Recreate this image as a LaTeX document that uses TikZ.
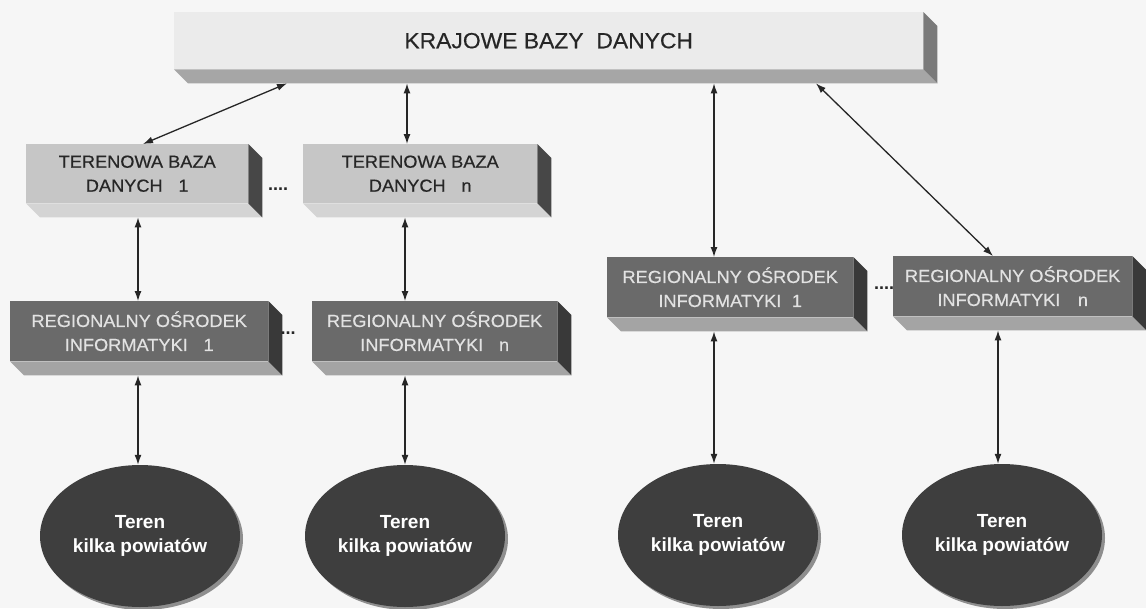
\documentclass[tikz,border=0pt]{standalone}
\usepackage{fontspec}
\setmainfont{Liberation Sans}
\newfontfamily\boxfont[FakeStretch=1.04,FakeBold=0.4]{Liberation Sans}
\usetikzlibrary{arrows.meta,shapes.geometric,shadows}
\definecolor{bg}{HTML}{F6F6F6}
\definecolor{topfront}{HTML}{EBEBEB}
\definecolor{topbottom}{HTML}{A6A6A6}
\definecolor{topside}{HTML}{7A7A7A}
\definecolor{terfront}{HTML}{C6C6C6}
\definecolor{terbottom}{HTML}{D4D4D4}
\definecolor{terside}{HTML}{474747}
\definecolor{roifront}{HTML}{6A6A6A}
\definecolor{roibottom}{HTML}{A4A4A4}
\definecolor{roiside}{HTML}{393939}
\definecolor{ellfill}{HTML}{3E3E3E}
\definecolor{ellrim}{HTML}{8E8E8E}
\definecolor{ink}{HTML}{262626}
\definecolor{lighttext}{HTML}{E2E2E2}
\newcommand\extrude[3]{%
  \fill[#2] (#1.south west) -- (#1.south east) -- ([shift={(14,14)}]#1.south east) -- ([shift={(14,14)}]#1.south west) -- cycle;
  \fill[#3] (#1.north east) -- ([shift={(14,14)}]#1.north east) -- ([shift={(14,14)}]#1.south east) -- (#1.south east) -- cycle;
  \coordinate (#1b) at ([shift={(0,14)}]#1.south);}
\begin{document}
\begin{tikzpicture}[x=1pt,y=-1pt,
  slab/.style={rectangle, anchor=north west, inner sep=0pt, align=center},
  topslab/.style={slab, fill=topfront, text=ink, font=\boxfont\fontsize{22}{24}\selectfont},
  terslab/.style={slab, fill=terfront, text=ink, font=\boxfont\fontsize{17.5}{24}\selectfont},
  roislab/.style={slab, fill=roifront, text=lighttext, font=\boxfont\fontsize{17.5}{24}\selectfont},
  terr/.style={ellipse, fill=ellfill, minimum width=200pt, minimum height=142pt, inner sep=0pt,
    text=white, align=center, font=\bfseries\fontsize{19}{24}\selectfont,
    drop shadow={shadow xshift=3pt, shadow yshift=-3pt, fill=ellrim, opacity=1}},
  dots/.style={text=ink, font=\bfseries\fontsize{18}{18}\selectfont, inner sep=0pt},
  conn/.style={draw=ink, line width=1.3pt, {Latex[length=10pt,width=7pt]}-{Latex[length=10pt,width=7pt]}}
]
\useasboundingbox (0,0) rectangle (1146,608);
\fill[bg] (0,0) rectangle (1146,608);

% boxes
\node[topslab, minimum width=749pt, minimum height=57pt] (top) at (174,12) {KRAJOWE BAZY\ \ DANYCH};
\extrude{top}{topbottom}{topside}

\node[terslab, minimum width=222pt, minimum height=59pt] (ter1) at (26,144) {TERENOWA BAZA\\DANYCH\hspace{0.9em}1};
\extrude{ter1}{terbottom}{terside}
\node[terslab, minimum width=234pt, minimum height=59pt] (tern) at (303,144) {TERENOWA BAZA\\DANYCH\hspace{0.9em}n};
\extrude{tern}{terbottom}{terside}

\node[roislab, minimum width=258pt, minimum height=60pt] (r1l) at (10,301) {REGIONALNY OŚRODEK\\INFORMATYKI\hspace{0.9em}1};
\extrude{r1l}{roibottom}{roiside}
\node[roislab, minimum width=245pt, minimum height=60pt] (rnl) at (312,301) {REGIONALNY OŚRODEK\\INFORMATYKI\hspace{0.9em}n};
\extrude{rnl}{roibottom}{roiside}
\node[roislab, minimum width=246pt, minimum height=60pt] (r1r) at (607,257) {REGIONALNY OŚRODEK\\INFORMATYKI\hspace{0.6em}1};
\extrude{r1r}{roibottom}{roiside}
\node[roislab, minimum width=239pt, minimum height=60pt] (rnr) at (893,256) {REGIONALNY OŚRODEK\\INFORMATYKI\hspace{1em}n};
\extrude{rnr}{roibottom}{roiside}

% ellipses
\node[terr] (e1) at (140,536) {Teren\\kilka powiatów};
\node[terr] (e2) at (405,536) {Teren\\kilka powiatów};
\node[terr] (e3) at (718,535) {Teren\\kilka powiatów};
\node[terr] (e4) at (1002,535) {Teren\\kilka powiatów};

% dots
\node[dots] (d1) at (278,189) {....};
\node[dots] (d2) at (288,333) {...};
\node[dots] (d3) at (884,288) {....};

% connectors
\draw[conn] (287,0 |- topb) -- (143,0 |- ter1.north);
\draw[conn] (407,0 |- topb) -- (407,0 |- tern.north);
\draw[conn] (714,0 |- topb) -- (714,0 |- r1r.north);
\draw[conn] (816,0 |- topb) -- (993,0 |- rnr.north);
\draw[conn] (138,0 |- ter1b) -- (138,0 |- r1l.north);
\draw[conn] (405,0 |- ternb) -- (405,0 |- rnl.north);
\draw[conn] (138,0 |- r1lb) -- (138,0 |- e1.north);
\draw[conn] (405,0 |- rnlb) -- (405,0 |- e2.north);
\draw[conn] (714,0 |- r1rb) -- (714,0 |- e3.north);
\draw[conn] (998,0 |- rnrb) -- (998,0 |- e4.north);
\end{tikzpicture}
\end{document}
